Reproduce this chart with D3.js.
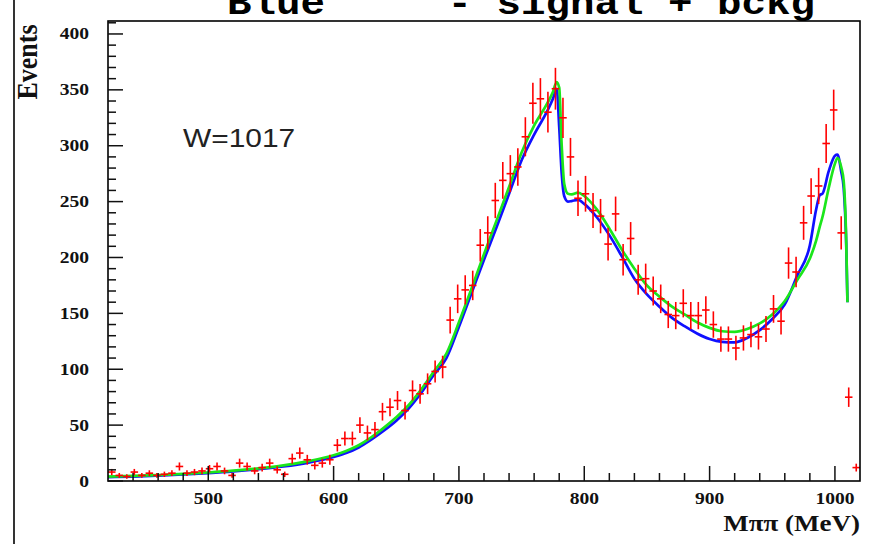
<!DOCTYPE html>
<html><head><meta charset="utf-8">
<script src="https://cdn.jsdelivr.net/npm/d3@7"></script>
<style>body{margin:0;background:#fff;} svg{display:block}</style>
</head><body><svg id="c" width="872" height="544"></svg>
<script>
// ---- data ----
const binCenters = [423,429,435,441,447,453,459,465,471,477,483,489,495,501,507,513,519,525,531,537,
543,549,555,561,567,573,579,585,591,597,603,609,615,621,627,633,639,645,651,657,
663,669,675,681,687,693,699,705,711,717,723,729,735,741,747,753,759,765,771,777,
783,789,795,801,807,813,819,825,831,837,843,849,855,861,867,873,879,885,891,897,
903,909,915,921,927,933,939,945,951,957,963,969,975,981,987,993,999,1005,1011,1017];
const counts = [8,5,4,8,5,7,5,6,7,13,7,8,9,11,13,9,5,16,13,9,
12,16,10,6,20,25,19,14,16,19,32,38,38,50,43,46,62,66,72,63,
81,78,87,98,102,144,163,171,175,211,222,251,269,275,281,308,338,342,330,351,
325,290,253,257,242,237,212,239,198,217,180,181,170,163,149,148,159,148,148,153,
140,127,127,119,128,131,129,136,154,143,195,187,231,255,264,302,332,222,75,12];
const errors = [2.8,2.2,2.0,2.8,2.2,2.6,2.2,2.4,2.6,3.6,2.6,2.8,3.0,3.3,3.6,3.0,2.2,4.0,3.6,3.0,
3.5,4.0,3.2,2.4,4.5,5.0,4.4,3.7,4.0,4.4,5.6,6.2,6.2,7.1,6.6,6.8,7.9,8.1,8.5,7.9,
9.0,8.8,9.3,9.9,10.1,12.0,12.8,13.1,13.2,14.5,14.9,15.8,16.4,16.6,16.8,17.5,18.4,18.5,18.2,18.7,
18.0,17.0,15.9,16.0,15.6,15.4,14.6,15.5,14.1,14.7,13.4,13.5,13.0,12.8,12.2,12.2,12.6,12.2,12.2,12.4,
11.8,11.3,11.3,10.9,11.3,11.4,11.4,11.7,12.4,12.0,14.0,13.7,15.2,16.0,16.2,17.4,18.2,14.9,8.7,3.5];
const binHalfWidth = 3;

const curveMass  = [420,440,460,480,500,520,540,560,580,600,610,620,630,640,650,660,670,680,690,700,
710,720,730,740,750,760,770,775,778,780,782,784,787,790,795,800,810,820,830,840,
850,860,870,880,890,900,910,920,930,940,950,960,970,980,985,988,990,995,1000,1002,
1005,1007,1009,1010];
const blueCurve  = [3.5,4,4.8,5.8,7,8.5,10.5,13,16.5,21.5,25,30,37,45,54,65,79,95,110,138,
168,198,227,257,287,310,330,342,351,317,275,255,250,250.5,251.5,248,236,220,201,181,
167,156,146,138.5,132,127,124.5,124,128,135,145,158,184,211,243,256,257,277,291,292,
277,262,212,160];
const greenCurve = [4,4.5,5.3,6.3,7.6,9.2,11.3,14,17.8,23,26.8,32,39,47.5,57,68,82,98,114,142,
172,203,233,263,294,318,337,348,357,352,300,266,257,256.5,258,255,243,226,207,190,
175,165,156,149,142,137,134,133.5,136,141,149,161,180,199,215,228,236,262,284,289,
281,268,215,160];

const xMajorTicks = [500,600,700,800,900,1000];
const yMajorTicks = [0,50,100,150,200,250,300,350,400];
const titleText = "Blue     - signal + bckg";
const xTitle = "M\u03c0\u03c0 (MeV)";
const yTitle = "Events";
const wLabel = "W=1017";

// ---- layout ----
const L = 108, R = 860, T = 21, B = 481;
const SX = 1.15; // horizontal text stretch
const svg = d3.select("#c");
const x = d3.scaleLinear().domain([420, 1020]).range([L, R]);
const y = d3.scaleLinear().domain([0, 411.6]).range([B, T]);

// outer left line
svg.append("line").attr("x1",14).attr("x2",14).attr("y1",0).attr("y2",544)
  .attr("stroke","#000").attr("stroke-width",1.6);

// title (clipped at top, as in the reference)
svg.append("text").attr("transform",`translate(227,13.5) scale(${SX},1)`)
  .attr("xml:space","preserve").style("white-space","pre")
  .attr("font-family","'Liberation Mono', 'Courier New', monospace")
  .attr("font-weight","bold").attr("font-size",35.5).attr("fill","#000")
  .text(titleText);

// curves
const line = d3.line().x((d,i)=>x(curveMass[i])).y(d=>y(d)).curve(d3.curveMonotoneX);
const g = svg.append("g");
g.append("path").datum(blueCurve).attr("d",line).attr("fill","none")
  .attr("stroke","#1010ff").attr("stroke-width",2.7).attr("stroke-linejoin","round");
g.append("path").datum(greenCurve).attr("d",line).attr("fill","none")
  .attr("stroke","#1be61b").attr("stroke-width",2.7).attr("stroke-linejoin","round");

// data points
const pts = svg.append("g").attr("stroke","#ff0000").attr("stroke-width",1.6);
binCenters.forEach((m,i)=>{
  const cy = y(counts[i]);
  pts.append("line").attr("x1",x(m-binHalfWidth)).attr("x2",x(m+binHalfWidth))
    .attr("y1",cy).attr("y2",cy);
  pts.append("line").attr("x1",x(m)).attr("x2",x(m))
    .attr("y1",Math.min(y(counts[i]-errors[i]),B)).attr("y2",y(counts[i]+errors[i]));
});

// frame
svg.append("rect").attr("x",L).attr("y",T).attr("width",R-L).attr("height",B-T)
  .attr("fill","none").attr("stroke","#000").attr("stroke-width",1.6);

// ticks
const ax = svg.append("g").attr("stroke","#111").attr("stroke-width",1.5);
d3.range(440, 1020, 20).forEach(v=>{
  const major = xMajorTicks.includes(v);
  ax.append("line").attr("x1",x(v)).attr("x2",x(v)).attr("y1",B).attr("y2",B-(major?15:8));
});
d3.range(0, 411, 10).forEach(v=>{
  const major = yMajorTicks.includes(v);
  ax.append("line").attr("x1",L).attr("x2",L+(major?15:8)).attr("y1",y(v)).attr("y2",y(v));
});

const serif = "'Liberation Serif','Times New Roman',serif";
xMajorTicks.forEach(v=>{
  svg.append("text").attr("transform",`translate(${x(v)},504) scale(${SX},1)`)
    .attr("text-anchor","middle").attr("font-family",serif).attr("font-weight","bold")
    .attr("font-size",17).attr("fill","#111").text(v);
});
yMajorTicks.forEach(v=>{
  svg.append("text").attr("transform",`translate(89,${y(v)+5.5}) scale(${SX},1)`)
    .attr("text-anchor","end").attr("font-family",serif).attr("font-weight","bold")
    .attr("font-size",17).attr("fill","#111").text(v);
});

// axis titles
svg.append("text").attr("transform",`translate(860,531) scale(${SX},1)`)
  .attr("text-anchor","end").attr("font-family",serif).attr("font-weight","bold")
  .attr("font-size",23.5).attr("fill","#111").text(xTitle);
svg.append("text").attr("transform",`translate(37,62) rotate(-90) scale(1,${SX})`)
  .attr("text-anchor","middle").attr("font-family",serif).attr("font-weight","bold")
  .attr("font-size",26).attr("fill","#111").text(yTitle);

// annotation
svg.append("text").attr("transform",`translate(183,147) scale(${SX},1)`)
  .attr("font-family","'Liberation Sans',Arial,sans-serif")
  .attr("font-size",26).attr("fill","#222").text(wLabel);
</script></body></html>
